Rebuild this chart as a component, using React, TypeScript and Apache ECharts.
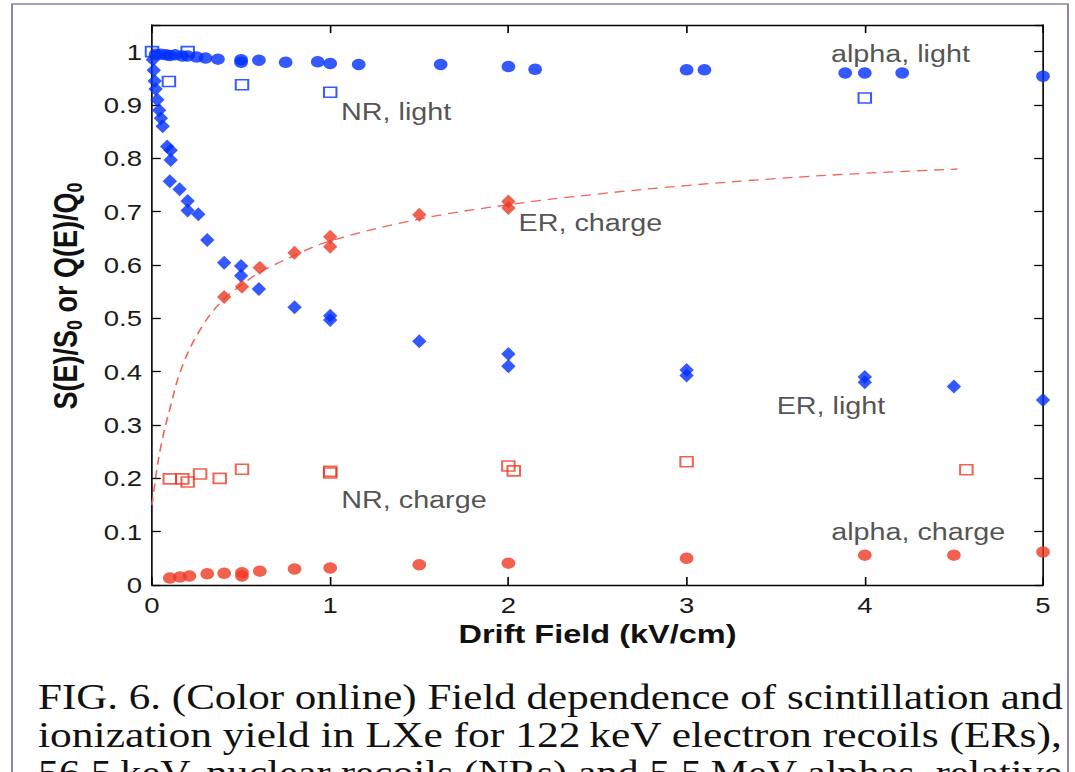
import React, { useEffect, useRef } from "react";
import * as echarts from "echarts";

// The reference is horizontally stretched; render narrower and stretch.
const STRETCH = 1.25;
const PAGE_W = 1075;
const PAGE_H = 772;
const CHART_W = PAGE_W / STRETCH;

// ---- Data ----
const alphaLightX = [0.02, 0.05, 0.08, 0.1, 0.13, 0.17, 0.2, 0.25, 0.3, 0.37, 0.5, 0.5, 0.6, 0.75, 0.93, 1.0, 1.16, 1.62, 2.0, 2.15, 3.0, 3.1, 3.89, 4.0, 4.21, 5.0];
const alphaLightY = [0.995, 0.995, 0.994, 0.993, 0.994, 0.992, 0.992, 0.99, 0.988, 0.986, 0.985, 0.98, 0.984, 0.98, 0.981, 0.978, 0.976, 0.976, 0.972, 0.967, 0.966, 0.966, 0.96, 0.96, 0.96, 0.954];

const nrLightX = [0.0, 0.095, 0.2, 0.505, 1.0, 4.0];
const nrLightY = [1.0, 0.944, 1.0, 0.938, 0.924, 0.913];

const erLightX = [0.005, 0.01, 0.015, 0.02, 0.03, 0.04, 0.05, 0.06, 0.085, 0.105, 0.105, 0.1, 0.155, 0.2, 0.2, 0.26, 0.31, 0.405, 0.5, 0.5, 0.6, 0.8, 1.0, 1.0, 1.5, 2.0, 2.0, 3.0, 3.0, 4.0, 4.0, 4.5, 5.0];
const erLightY = [0.985, 0.965, 0.945, 0.93, 0.91, 0.89, 0.875, 0.86, 0.822, 0.815, 0.797, 0.757, 0.742, 0.72, 0.702, 0.695, 0.647, 0.604, 0.598, 0.58, 0.555, 0.521, 0.505, 0.497, 0.457, 0.433, 0.41, 0.403, 0.393, 0.39, 0.38, 0.372, 0.347];

const erChargeX = [0.405, 0.505, 0.605, 0.8, 1.0, 1.0, 1.5, 2.0, 2.0];
const erChargeY = [0.54, 0.559, 0.595, 0.623, 0.653, 0.634, 0.694, 0.719, 0.707];

const erFitX = [0.0, 0.02, 0.05, 0.1, 0.17, 0.28, 0.4, 0.5, 0.6, 0.8, 1.0, 1.5, 2.0, 2.5, 3.0, 3.5, 4.0, 4.52];
const erFitY = [0.15, 0.2, 0.26, 0.33, 0.41, 0.484, 0.535, 0.562, 0.585, 0.618, 0.645, 0.686, 0.713, 0.733, 0.749, 0.762, 0.772, 0.78];

const nrChargeX = [0.1, 0.17, 0.2, 0.27, 0.38, 0.505, 1.0, 1.0, 2.0, 2.03, 3.0, 4.57];
const nrChargeY = [0.199, 0.199, 0.193, 0.208, 0.2, 0.217, 0.213, 0.21, 0.223, 0.214, 0.231, 0.216];

const alphaChargeX = [0.1, 0.157, 0.21, 0.31, 0.405, 0.505, 0.505, 0.605, 0.8, 1.0, 1.5, 2.0, 3.0, 4.0, 4.5, 5.0];
const alphaChargeY = [0.013, 0.015, 0.017, 0.021, 0.022, 0.023, 0.017, 0.026, 0.03, 0.032, 0.038, 0.041, 0.05, 0.056, 0.056, 0.062];

const annotationText = ["alpha, light", "NR, light", "ER, charge", "ER, light", "NR, charge", "alpha, charge"];
const annotationX = [4.2, 1.37, 2.46, 3.81, 1.47, 4.3];
const annotationY = [0.996, 0.887, 0.679, 0.336, 0.159, 0.099];

const xTicks = [0, 1, 2, 3, 4, 5];
const yTicks = [0, 0.1, 0.2, 0.3, 0.4, 0.5, 0.6, 0.7, 0.8, 0.9, 1];

const captionLines = [
  "FIG. 6. (Color online) Field dependence of scintillation and",
  "ionization yield in LXe for 122\u2009keV electron recoils (ERs),",
  "56.5\u2009keV, nuclear recoils (NRs) and 5.5\u2009MeV alphas, relative",
];

const pairs = (xs: number[], ys: number[]) => xs.map((x, i) => [x, ys[i]]);

const BLUE = "#0030ff";
const RED = "#ee3a24";
const FIT_RED = "#f2645a";
const SANS = "'Liberation Sans', Arial, Helvetica, sans-serif";
const SERIF = "'Liberation Serif', 'Times New Roman', serif";
const CAPTION_FONT = `36px ${SERIF}`;

function measureText(text: string, font: string): number {
  const ctx = document.createElement("canvas").getContext("2d");
  if (!ctx) return text.length * 16;
  ctx.font = font;
  return ctx.measureText(text).width;
}

export default function App() {
  const ref = useRef<HTMLDivElement>(null);
  useEffect(() => {
    document.body.style.margin = "0";
    const chart = echarts.init(ref.current!, null, { renderer: "svg", width: CHART_W, height: PAGE_H });
    const lineStyle = { color: "#000", width: 1.3 };
    const gridTop = 25;
    const gridBottom = 187;
    const gridLeft = 152 / STRETCH;
    const gridRight = CHART_W - 1043 / STRETCH;
    const captionLeft = 38 / STRETCH;
    const captionWidth = (1063 - 38) / STRETCH;

    const baseX = {
      type: "value" as const,
      min: xTicks[0],
      max: xTicks[xTicks.length - 1],
      interval: xTicks[1] - xTicks[0],
      splitLine: { show: false },
      axisLine: { show: true, onZero: false, lineStyle },
      axisTick: { show: true, inside: true, length: 8, lineStyle },
    };
    const baseY = {
      type: "value" as const,
      min: 0,
      max: 1.05,
      interval: 0.1,
      splitLine: { show: false },
      axisLine: { show: true, onZero: false, lineStyle },
      axisTick: { show: true, inside: true, length: 7, lineStyle },
    };

    chart.setOption({
      animation: false,
      backgroundColor: "#ffffff",
      grid: { left: gridLeft, right: gridRight, top: gridTop, bottom: gridBottom, containLabel: false },
      xAxis: [
        {
          ...baseX,
          position: "bottom",
          axisLabel: { fontSize: 22, color: "#1a1a1a", margin: 9, fontFamily: SANS },
          name: "Drift Field (kV/cm)",
          nameLocation: "middle",
          nameGap: 32,
          nameTextStyle: { fontSize: 26, fontWeight: "bold", color: "#111", fontFamily: SANS },
        },
        { ...baseX, position: "top", axisLabel: { show: false } },
      ],
      yAxis: [
        {
          ...baseY,
          position: "left",
          axisLabel: {
            fontSize: 22,
            color: "#1a1a1a",
            margin: 8,
            fontFamily: SANS,
            formatter: (v: number) => {
              const t = yTicks.find((k) => Math.abs(k - v) < 1e-6);
              return t === undefined ? "" : String(t);
            },
          },
        },
        { ...baseY, position: "right", axisLabel: { show: false } },
      ],
      series: [
        {
          name: "ER charge fit",
          type: "line",
          data: pairs(erFitX, erFitY),
          smooth: 0.4,
          symbol: "none",
          lineStyle: { color: FIT_RED, width: 1.3, type: [8, 5.5] },
          z: 1,
        },
        {
          name: "alpha light",
          type: "scatter",
          data: pairs(alphaLightX, alphaLightY),
          symbol: "circle",
          symbolSize: [11, 11.5],
          itemStyle: { color: BLUE },
          z: 3,
        },
        {
          name: "NR light",
          type: "scatter",
          data: pairs(nrLightX, nrLightY),
          symbol: "rect",
          symbolSize: [10, 10],
          itemStyle: { color: "rgba(255,255,255,0)", borderColor: BLUE, borderWidth: 1.6 },
          z: 4,
        },
        {
          name: "ER light",
          type: "scatter",
          data: pairs(erLightX, erLightY),
          symbol: "diamond",
          symbolSize: [11.5, 14],
          itemStyle: { color: BLUE },
          z: 3,
        },
        {
          name: "ER charge",
          type: "scatter",
          data: pairs(erChargeX, erChargeY),
          symbol: "diamond",
          symbolSize: [11.5, 14],
          itemStyle: { color: RED },
          z: 4,
        },
        {
          name: "NR charge",
          type: "scatter",
          data: pairs(nrChargeX, nrChargeY),
          symbol: "rect",
          symbolSize: [10, 10],
          itemStyle: { color: "rgba(255,255,255,0)", borderColor: RED, borderWidth: 1.6 },
          z: 4,
        },
        {
          name: "alpha charge",
          type: "scatter",
          data: pairs(alphaChargeX, alphaChargeY),
          symbol: "circle",
          symbolSize: [11, 11.5],
          itemStyle: { color: RED },
          z: 3,
        },
        {
          name: "labels",
          type: "scatter",
          data: annotationText.map((t, i) => ({ name: t, value: [annotationX[i], annotationY[i]] })),
          symbolSize: 1,
          itemStyle: { color: "rgba(0,0,0,0)" },
          silent: true,
          z: 5,
          label: {
            show: true,
            position: "inside",
            formatter: (p: any) => p.name,
            fontSize: 23,
            color: "#262626",
            fontFamily: SANS,
            align: "center",
            verticalAlign: "middle",
          },
        },
      ],
      graphic: [
        {
          type: "rect",
          shape: { x: 12 / STRETCH, y: 4, width: (1068 - 12) / STRETCH, height: PAGE_H + 40 },
          style: { fill: "none", stroke: "#8f82a3", lineWidth: 1.6 },
          silent: true,
          z: 0,
        },
        {
          type: "text",
          x: 67 / STRETCH,
          y: 296,
          rotation: Math.PI / 2,
          style: {
            text: "{a|S(E)/S}{s|0}{a| or Q(E)/Q}{s|0}",
            textAlign: "center",
            textVerticalAlign: "middle",
            rich: {
              a: { fontSize: 27, fontWeight: "bold", fill: "#111", fontFamily: SANS, lineHeight: 30, verticalAlign: "top" },
              s: { fontSize: 18, fontWeight: "bold", fill: "#111", fontFamily: SANS, lineHeight: 14, verticalAlign: "bottom", padding: [19, 0, 0, 0] },
            },
          },
          silent: true,
        },
        ...captionLines.map((line, i) => ({
          type: "text",
          x: captionLeft,
          y: 697 + i * 38,
          scaleX: captionWidth / measureText(line, CAPTION_FONT),
          style: {
            text: line,
            font: CAPTION_FONT,
            fill: "#111",
            textAlign: "left",
            textVerticalAlign: "middle",
          },
          silent: true,
        })),
      ],
    });
    return () => chart.dispose();
  }, []);

  return (
    <div style={{ position: "absolute", left: 0, top: 0, width: PAGE_W, height: PAGE_H, overflow: "hidden", background: "#fff" }}>
      <div
        ref={ref}
        style={{ width: CHART_W, height: PAGE_H, transform: `scaleX(${STRETCH})`, transformOrigin: "0 0" }}
      />
    </div>
  );
}
